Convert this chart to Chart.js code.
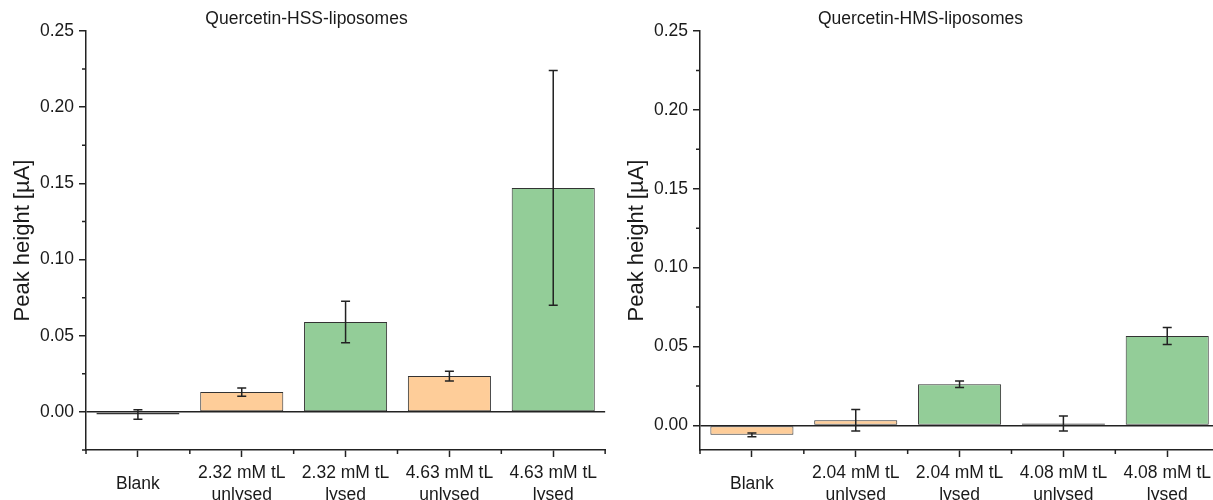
<!DOCTYPE html>
<html>
<head>
<meta charset="utf-8">
<script src="https://cdn.jsdelivr.net/npm/chart.js@4.4.1/dist/chart.umd.min.js"></script>
<style>
  html, body { margin: 0; padding: 0; background: #fff; overflow: hidden; }
  #wrap { position: relative; width: 1213px; height: 500px; overflow: hidden; }
  .panel { position: absolute; top: 0; height: 530px; }
</style>
</head>
<body>
<div id="wrap">
  <div class="panel" style="left:0px; width:613px;"><canvas id="hssChart"></canvas></div>
  <div class="panel" style="left:614px; width:613px;"><canvas id="hmsChart"></canvas></div>
</div>
<script>
//
// Peak height of quercetin liposomes, two panels
//

// Left panel - HSS liposomes
const hssLabels = [['Blank'], ['2.32 mM tL', 'unlysed'], ['2.32 mM tL', 'lysed'], ['4.63 mM tL', 'unlysed'], ['4.63 mM tL', 'lysed']];
const hssValues = [-0.0017, 0.013, 0.059, 0.0235, 0.147];
const hssErrors = [0.0031, 0.0027, 0.0136, 0.0032, 0.077];

// Right panel - HMS liposomes
const hmsLabels = [['Blank'], ['2.04 mM tL', 'unlysed'], ['2.04 mM tL', 'lysed'], ['4.08 mM tL', 'unlysed'], ['4.08 mM tL', 'lysed']];
const hmsValues = [-0.006, 0.0033, 0.0261, 0.0012, 0.0567];
const hmsErrors = [0.0012, 0.0068, 0.0021, 0.0047, 0.0054];

// Axis ticks
const yMajorTicks = [0, 0.05, 0.10, 0.15, 0.20, 0.25];
const yMinorTicks = [-0.025, 0.025, 0.075, 0.125, 0.175, 0.225];

const ORANGE = 'rgb(254, 205, 153)';
const GREEN = 'rgb(147, 205, 152)';
const INK = '#222';
const FONT = '"Liberation Sans", Arial, sans-serif';

Chart.defaults.font.family = FONT;
Chart.defaults.color = '#1a1a1a';

// Draws error bars and the short minor ticks on both axes
const extrasPlugin = {
  id: 'extras',
  afterDatasetsDraw(chart) {
    const ctx = chart.ctx;
    const meta = chart.getDatasetMeta(0);
    const yScale = chart.scales.y;
    const errs = chart.data.datasets[0].errors;
    const vals = chart.data.datasets[0].data;
    ctx.save();
    ctx.strokeStyle = INK;
    ctx.lineWidth = 1.5;
    meta.data.forEach((bar, i) => {
      const yTop = yScale.getPixelForValue(vals[i] + errs[i]);
      const yBot = yScale.getPixelForValue(vals[i] - errs[i]);
      ctx.beginPath();
      ctx.moveTo(bar.x, yTop); ctx.lineTo(bar.x, yBot);
      ctx.moveTo(bar.x - 4.5, yTop); ctx.lineTo(bar.x + 4.5, yTop);
      ctx.moveTo(bar.x - 4.5, yBot); ctx.lineTo(bar.x + 4.5, yBot);
      ctx.stroke();
    });
    ctx.restore();
  },
  afterDraw(chart) {
    const ctx = chart.ctx;
    const xScale = chart.scales.x;
    const yScale = chart.scales.y;
    ctx.save();
    ctx.strokeStyle = INK;
    ctx.lineWidth = 1.5;
    ctx.beginPath();
    yMinorTicks.forEach(v => {
      if (v < yScale.min || v > yScale.max) return;
      const y = yScale.getPixelForValue(v);
      ctx.moveTo(yScale.right - 4, y); ctx.lineTo(yScale.right, y);
    });
    for (let i = 0; i <= chart.data.labels.length; i++) {
      const x = xScale.getPixelForValue(i - 0.5);
      ctx.moveTo(x, xScale.top); ctx.lineTo(x, xScale.top + 4);
    }
    ctx.stroke();
    ctx.restore();
  }
};

function makeChart(id, title, labels, values, errors, yMin) {
  return new Chart(document.getElementById(id), {
    type: 'bar',
    data: {
      labels: labels,
      datasets: [{
        data: values,
        errors: errors,
        backgroundColor: labels.map(l => l[1] === 'lysed' ? GREEN : ORANGE),
        borderColor: '#333',
        borderWidth: 1,
        borderSkipped: false,
        barPercentage: 0.8,
        categoryPercentage: 1.0
      }]
    },
    options: {
      responsive: true,
      maintainAspectRatio: false,
      animation: false,
      layout: { padding: 0 },
      plugins: {
        legend: { display: false },
        tooltip: { enabled: false },
        title: {
          display: true,
          text: title,
          color: '#1a1a1a',
          font: { size: 17.5, weight: 'normal', lineHeight: 1.2 },
          padding: { top: 8.5, bottom: 1.5 }
        }
      },
      scales: {
        x: {
          offset: true,
          grid: {
            offset: false,
            drawOnChartArea: false,
            tickLength: 7,
            tickWidth: 1.5,
            tickColor: INK
          },
          border: { display: true, color: INK, width: 1.5 },
          ticks: {
            padding: 16,
            crossAlign: 'center',
            maxRotation: 0,
            autoSkip: false,
            color: '#1a1a1a',
            font: { size: 17.5, lineHeight: 1.25 }
          },
          afterFit(scale) { scale.height = 80; }
        },
        y: {
          min: yMin,
          max: 0.25,
          afterBuildTicks(scale) {
            scale.ticks = yMajorTicks.map(v => ({ value: v }));
          },
          grid: {
            drawOnChartArea: true,
            color: ctx => (ctx.tick && ctx.tick.value === 0) ? INK : 'rgba(0,0,0,0)',
            lineWidth: 1.5,
            tickLength: 7,
            tickWidth: 1.5,
            tickColor: INK
          },
          border: { display: true, color: INK, width: 1.5 },
          ticks: {
            padding: 5,
            color: '#1a1a1a',
            font: { size: 17.5 },
            callback: v => Number(v).toFixed(2)
          },
          title: {
            display: true,
            text: 'Peak height [\u00b5A]',
            color: '#1a1a1a',
            font: { size: 22, lineHeight: 1.2 },
            padding: { top: 10, bottom: 0 }
          },
          afterFit(scale) { scale.width = 86; }
        }
      }
    },
    plugins: [extrasPlugin]
  });
}

makeChart('hssChart', 'Quercetin-HSS-liposomes', hssLabels, hssValues, hssErrors, -0.025);
makeChart('hmsChart', 'Quercetin-HMS-liposomes', hmsLabels, hmsValues, hmsErrors, -0.0156);
</script>
</body>
</html>
